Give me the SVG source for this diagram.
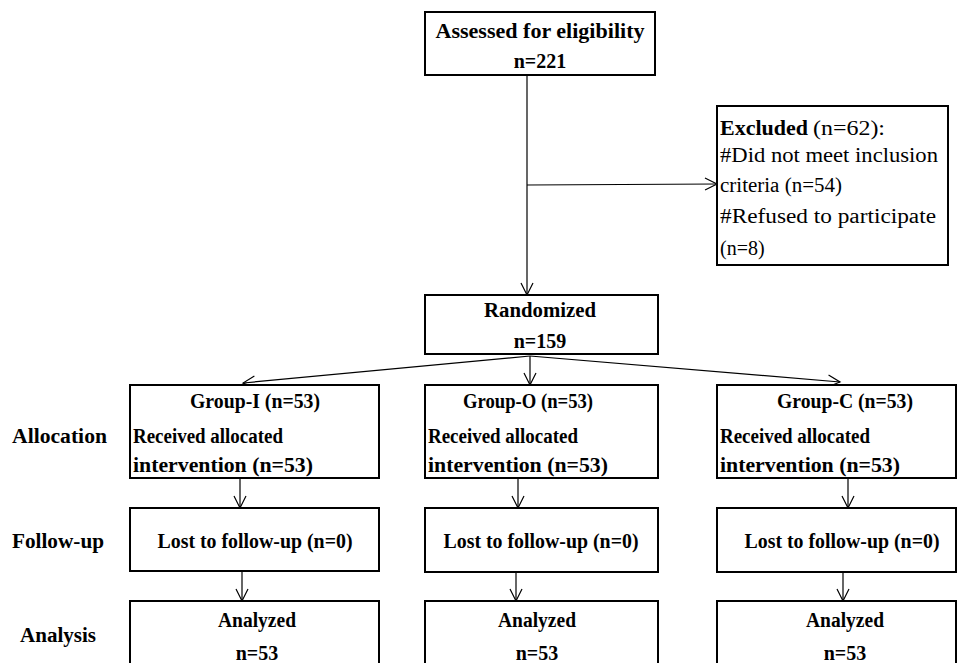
<svg xmlns="http://www.w3.org/2000/svg" width="960" height="663" viewBox="0 0 960 663">
<defs>
<marker id="arr" markerUnits="userSpaceOnUse" markerWidth="16" markerHeight="16" refX="13" refY="7" orient="auto">
<path d="M1,1 L13,7 L1,13" fill="none" stroke="#000" stroke-width="1.2"/>
</marker>
<style>
.box{fill:#fff;stroke:#000;stroke-width:2}
.ln{fill:none;stroke:#000;stroke-width:1.2;marker-end:url(#arr)}
.t{font-family:"Liberation Serif","DejaVu Serif",serif;font-weight:bold;font-size:20px;fill:#000}
.c{text-anchor:middle}
.r{font-weight:normal}
</style>
</defs>
<rect width="960" height="663" fill="#fff"/>
<g id="connectors">
<line class="ln" x1="527" y1="75" x2="527" y2="295"/>
<line class="ln" x1="527" y1="185" x2="717" y2="184"/>
<line class="ln" x1="530" y1="356" x2="243" y2="383"/>
<line class="ln" x1="530" y1="356" x2="530" y2="385"/>
<line class="ln" x1="530" y1="356" x2="840" y2="382"/>
<line class="ln" x1="240" y1="478" x2="240" y2="508"/>
<line class="ln" x1="242" y1="571" x2="242" y2="601"/>
<line class="ln" x1="518" y1="478" x2="518" y2="508"/>
<line class="ln" x1="516" y1="572" x2="516" y2="601"/>
<line class="ln" x1="848" y1="478" x2="848" y2="508"/>
<line class="ln" x1="843" y1="572" x2="843" y2="601"/>
</g>
<g id="assessed">
<rect class="box" x="425" y="12" width="230" height="63"/>
<text class="t c" x="540" y="38" textLength="209" lengthAdjust="spacingAndGlyphs">Assessed for eligibility</text>
<text class="t c" x="540" y="68">n=221</text>
</g>
<g id="excluded">
<rect class="box" x="717" y="106" width="231" height="159"/>
<text class="t" x="720" y="135" textLength="88" lengthAdjust="spacingAndGlyphs">Excluded</text>
<text class="t r" x="813" y="135" textLength="72" lengthAdjust="spacingAndGlyphs">(n=62):</text>
<text class="t r" x="720" y="162" textLength="218" lengthAdjust="spacingAndGlyphs">#Did not meet inclusion</text>
<text class="t r" x="720" y="192" textLength="122" lengthAdjust="spacingAndGlyphs">criteria (n=54)</text>
<text class="t r" x="720" y="223" textLength="216" lengthAdjust="spacingAndGlyphs">#Refused to participate</text>
<text class="t r" x="720" y="255">(n=8)</text>
</g>
<g id="randomized">
<rect class="box" x="425" y="295" width="233" height="59"/>
<text class="t c" x="540" y="317" textLength="112" lengthAdjust="spacingAndGlyphs">Randomized</text>
<text class="t c" x="540" y="348">n=159</text>
</g>
<g id="group-i">
<rect class="box" x="130" y="385" width="249" height="93"/>
<text class="t c" x="255" y="408" textLength="130" lengthAdjust="spacingAndGlyphs">Group-I (n=53)</text>
<text class="t" x="133" y="443" textLength="150" lengthAdjust="spacingAndGlyphs">Received allocated</text>
<text class="t" x="133" y="472" textLength="180" lengthAdjust="spacingAndGlyphs">intervention (n=53)</text>
</g>
<g id="group-o">
<rect class="box" x="425" y="385" width="233" height="93"/>
<text class="t c" x="528" y="408" textLength="130" lengthAdjust="spacingAndGlyphs">Group-O (n=53)</text>
<text class="t" x="428" y="443" textLength="150" lengthAdjust="spacingAndGlyphs">Received allocated</text>
<text class="t" x="428" y="472" textLength="180" lengthAdjust="spacingAndGlyphs">intervention (n=53)</text>
</g>
<g id="group-c">
<rect class="box" x="717" y="385" width="239" height="93"/>
<text class="t c" x="845" y="408" textLength="136" lengthAdjust="spacingAndGlyphs">Group-C (n=53)</text>
<text class="t" x="720" y="443" textLength="150" lengthAdjust="spacingAndGlyphs">Received allocated</text>
<text class="t" x="720" y="472" textLength="180" lengthAdjust="spacingAndGlyphs">intervention (n=53)</text>
</g>
<g id="follow-i">
<rect class="box" x="130" y="508" width="249" height="63"/>
<text class="t c" x="255" y="548" textLength="195" lengthAdjust="spacingAndGlyphs">Lost to follow-up (n=0)</text>
</g>
<g id="follow-o">
<rect class="box" x="425" y="508" width="233" height="64"/>
<text class="t c" x="541" y="548" textLength="195" lengthAdjust="spacingAndGlyphs">Lost to follow-up (n=0)</text>
</g>
<g id="follow-c">
<rect class="box" x="717" y="508" width="239" height="64"/>
<text class="t c" x="842" y="548" textLength="195" lengthAdjust="spacingAndGlyphs">Lost to follow-up (n=0)</text>
</g>
<g id="analyzed-i">
<rect class="box" x="130" y="601" width="249" height="80"/>
<text class="t c" x="257" y="627" textLength="78" lengthAdjust="spacingAndGlyphs">Analyzed</text>
<text class="t c" x="257" y="660">n=53</text>
</g>
<g id="analyzed-o">
<rect class="box" x="425" y="601" width="233" height="80"/>
<text class="t c" x="537" y="627" textLength="78" lengthAdjust="spacingAndGlyphs">Analyzed</text>
<text class="t c" x="537" y="660">n=53</text>
</g>
<g id="analyzed-c">
<rect class="box" x="717" y="601" width="239" height="80"/>
<text class="t c" x="845" y="627" textLength="78" lengthAdjust="spacingAndGlyphs">Analyzed</text>
<text class="t c" x="845" y="660">n=53</text>
</g>
<g id="labels">
<text class="t" x="12" y="443" textLength="95" lengthAdjust="spacingAndGlyphs">Allocation</text>
<text class="t" x="12" y="548" textLength="92" lengthAdjust="spacingAndGlyphs">Follow-up</text>
<text class="t" x="20" y="642" textLength="76" lengthAdjust="spacingAndGlyphs">Analysis</text>
</g>
</svg>
